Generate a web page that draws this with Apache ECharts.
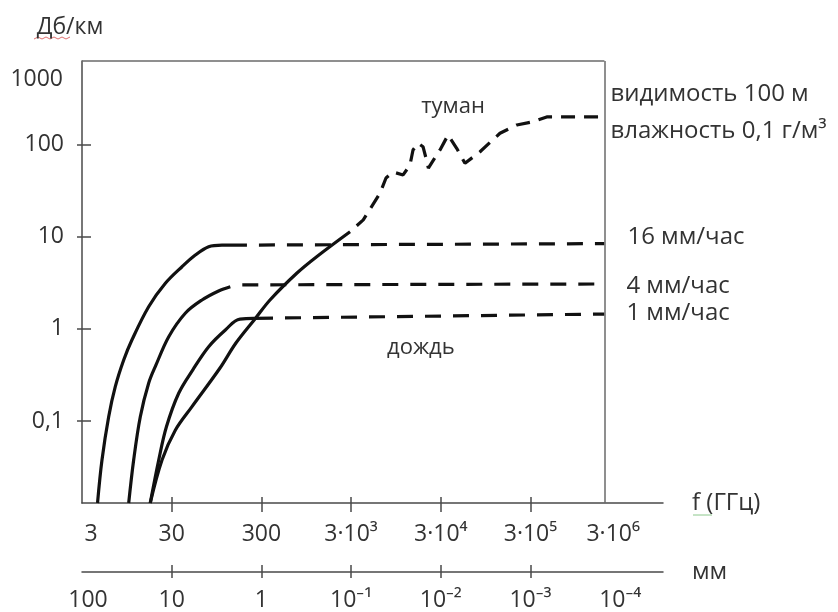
<!DOCTYPE html>
<html>
<head>
<meta charset="utf-8">
<script src="https://cdn.jsdelivr.net/npm/echarts@6/dist/echarts.min.js"></script>
<style>html,body{margin:0;padding:0;background:#fff}#c{width:838px;height:612px}</style>
</head>
<body>
<div id="c"></div>
<script>
// ---- axis ticks / labels ----
const freqTicks  = [3, 30, 300, 3000, 30000, 300000, 3000000];            // GHz
const freqLabels = ['3', '30', '300', '3·10³', '3·10⁴', '3·10⁵', '3·10⁶'];
const mmLabels   = ['100', '10', '1', '10⁻¹', '10⁻²', '10⁻³', '10⁻⁴'];   // wavelength, mm
const attTicks   = [0.1, 1, 10, 100, 1000];                               // dB/km
const attLabels  = ['0,1', '1', '10', '100', '1000'];

// ---- rain curves (solid part) : frequency GHz, attenuation dB/km ----
const rain16F = [4.47, 5.01, 5.95, 7.05, 8.75, 10.8, 16.6, 25.5, 39.1, 55, 77.5, 109, 207];
const rain16V = [0.013, 0.038, 0.112, 0.237, 0.461, 0.759, 1.74, 3.12, 4.72, 6.32, 7.78, 8.1, 8.1];
const rain4F  = [9.95, 11.3, 13.4, 16.6, 20.05, 27.8, 42.5, 65.3, 100, 135];
const rain4V  = [0.013, 0.038, 0.112, 0.258, 0.407, 0.824, 1.48, 2.06, 2.58, 2.87];
const rain1F  = [17.3, 21.5, 26.2, 35.9, 51.8, 77.5, 119, 173, 404];
const rain1V  = [0.013, 0.038, 0.087, 0.201, 0.363, 0.642, 0.974, 1.28, 1.31];

// ---- rain curves (dashed continuation) ----
const rain16DashF = [207, 2000000];
const rain16DashV = [8.1, 8.4];
const rain4DashF  = [135, 2000000];
const rain4DashV  = [3.0, 3.07];
const rain1DashF  = [404, 2000000];
const rain1DashV  = [1.31, 1.45];

// ---- fog curve ----
const fogF = [17.3, 23.4, 32.9, 50.5, 103.7, 156, 257, 374, 743, 1240, 2920];
const fogV = [0.013, 0.038, 0.080, 0.144, 0.377, 0.704, 1.30, 2.06, 4.01, 6.06, 11.3];
const fogDashF = [2920, 4100, 6300, 7350, 8800, 11400, 13600, 14700, 16700, 19000, 20500, 21800,
                  29400, 36100, 45100, 55800, 82100, 137000, 211000, 322000, 455000, 2000000];
const fogDashV = [11.3, 15.2, 29.5, 43.2, 50.2, 46.6, 59.7, 86.9, 103, 94.3, 71.1, 55.4,
                  86.9, 126, 90.6, 62.3, 83.2, 132, 162, 176, 198, 198];

const rainNames = ['16 мм/час', '4 мм/час', '1 мм/час'];
const fogName = 'туман';
const rainName = 'дождь';
const fogNote = ['видимость 100 м', 'влажность 0,1 г/м³'];

// ---- axis extents ----
const X_MIN = 3, X_MAX = 9e6, FRAME_RIGHT = 2e6;
const Y_MIN = 0.013, Y_MAX = 800;

const FONT = "'Open Sans', 'Noto Sans', sans-serif";
const FS = 23;
const FS_R = 24;
const TEXT_C = '#333333';
const AXIS_C = '#4a4a4a';
const FRAME_C = '#6a6a6a';
const LINE_C = '#111111';

const pairs = (F, V) => F.map((f, i) => [f, V[i]]);
const tickIndex = v => freqTicks.findIndex(t => Math.abs(Math.log10(t) - Math.log10(v)) < 1e-6);
const txt = { fontFamily: FONT, fontSize: FS, color: TEXT_C };
const txtR = { fontFamily: FONT, fontSize: FS_R, color: TEXT_C };

function solid(name, F, V) {
  return { type: 'line', name, data: pairs(F, V), symbol: 'none', smooth: 0.35, silent: true,
           lineStyle: { color: LINE_C, width: 3.2 }, z: 3 };
}
function dashed(name, F, V, dash, endLabel) {
  const s = { type: 'line', name, data: pairs(F, V), symbol: 'none', smooth: false, silent: true,
              lineStyle: { color: LINE_C, width: 3.2, type: dash, dashOffset: dash[0] }, z: 3 };
  if (endLabel) s.endLabel = endLabel;
  return s;
}

const axisLine = { show: true, lineStyle: { color: AXIS_C, width: 1.5 } };
const tickStyle = { color: AXIS_C, width: 1.5 };
const innerTicks = freqTicks.slice(1, 6);

const fogSolid = solid(fogName, fogF, fogV);
fogSolid.markLine = {
  silent: true, symbol: ['none', 'none'], label: { show: false },
  lineStyle: { color: FRAME_C, width: 1.5, type: 'solid' },
  data: [
    [{ coord: [X_MIN, Y_MAX] }, { coord: [FRAME_RIGHT, Y_MAX] }],
    [{ coord: [FRAME_RIGHT, Y_MIN] }, { coord: [FRAME_RIGHT, Y_MAX] }]
  ]
};

const option = {
  animation: false,
  backgroundColor: '#ffffff',
  grid: { left: 82, right: 175, top: 61, bottom: 109, containLabel: false },
  xAxis: [
    { type: 'log', min: X_MIN, max: X_MAX, position: 'bottom',
      axisLine, splitLine: { show: false },
      axisTick: { show: true, customValues: innerTicks, length: 9, lineStyle: tickStyle },
      axisLabel: { customValues: freqTicks, margin: 20, ...txt,
        formatter: v => { const i = tickIndex(v); const t = freqLabels[i];
          return i === 0 ? '{l|' + t + '}' : (i === freqTicks.length - 1 ? '{r|' + t + '}' : t); },
        rich: { l: { ...txt, padding: [0, 0, 0, 18] }, r: { ...txt, padding: [0, 14, 0, 0] } } },
      name: 'f (ГГц)', nameLocation: 'end', nameGap: 29, nameTextStyle: { ...txtR } },
    { type: 'log', min: X_MIN, max: X_MAX, position: 'bottom',
      axisLine: { show: false }, splitLine: { show: false }, axisLabel: { show: false },
      axisTick: { show: true, inside: true, customValues: innerTicks, length: 6, lineStyle: tickStyle } },
    { type: 'log', min: X_MIN, max: X_MAX, position: 'bottom', offset: 69,
      axisLine, splitLine: { show: false },
      axisTick: { show: true, customValues: innerTicks, length: 6, lineStyle: tickStyle },
      axisLabel: { customValues: freqTicks, margin: 17, ...txt,
        formatter: v => { const i = tickIndex(v); const t = mmLabels[i];
          return i === 0 ? '{l|' + t + '}' : t; },
        rich: { l: { ...txt, padding: [0, 0, 0, 12] } } },
      name: 'мм', nameLocation: 'end', nameGap: 29, nameTextStyle: { ...txtR } },
    { type: 'log', min: X_MIN, max: X_MAX, position: 'bottom', offset: 69,
      axisLine: { show: false }, splitLine: { show: false }, axisLabel: { show: false },
      axisTick: { show: true, inside: true, customValues: innerTicks, length: 7, lineStyle: tickStyle } }
  ],
  yAxis: [
    { type: 'log', min: Y_MIN, max: Y_MAX, position: 'left',
      axisLine, splitLine: { show: false },
      axisTick: { show: true, inside: true, customValues: attTicks.slice(0, 4), length: 9, lineStyle: tickStyle },
      axisLabel: { customValues: attTicks.slice(0, 4), margin: 18, ...txt,
        formatter: v => { const i = attTicks.findIndex(t => Math.abs(Math.log10(t) - Math.log10(v)) < 1e-6); return attLabels[i]; } },
      name: 'Дб/км', nameLocation: 'end', nameGap: 22,
      nameTextStyle: { ...txt, padding: [0, 24, 0, 0] } },
    { type: 'log', min: Y_MIN, max: Y_MAX, position: 'left',
      axisLine: { show: false }, splitLine: { show: false }, axisLabel: { show: false },
      axisTick: { show: true, inside: false, customValues: attTicks.slice(0, 4), length: 5, lineStyle: tickStyle } }
  ],
  series: [
    solid(rainNames[0], rain16F, rain16V),
    solid(rainNames[1], rain4F, rain4V),
    solid(rainNames[2], rain1F, rain1V),
    fogSolid,
    dashed(rainNames[0], rain16DashF, rain16DashV, [16, 12],
      { show: true, formatter: p => p.seriesName, distance: 23, offset: [0, -6], ...txtR }),
    dashed(rainNames[1], rain4DashF, rain4DashV, [16, 12],
      { show: true, formatter: p => p.seriesName, distance: 22, offset: [0, 2], ...txtR }),
    dashed(rainNames[2], rain1DashF, rain1DashV, [16, 12],
      { show: true, formatter: p => p.seriesName, distance: 22, offset: [0, -1], ...txtR }),
    dashed(fogName, fogDashF, fogDashV, [14, 9],
      { show: true, formatter: () => fogNote.join('\n'), distance: 6, offset: [0, -4], lineHeight: 37, align: 'left', ...txtR })
  ],
  graphic: [
    { type: 'text', x: 63, y: 79, silent: true,
      style: { text: attLabels[4], fontFamily: FONT, fontSize: FS, fill: TEXT_C, align: 'right', verticalAlign: 'middle' } },
    { type: 'text', x: 453, y: 107, silent: true,
      style: { text: fogName, fontFamily: FONT, fontSize: 22, fill: TEXT_C, align: 'center', verticalAlign: 'middle' } },
    { type: 'text', x: 387, y: 348, silent: true,
      style: { text: rainName, fontFamily: FONT, fontSize: 22, fill: TEXT_C, align: 'left', verticalAlign: 'middle' } },
    { type: 'polyline', silent: true,
      shape: { points: [[34, 39], [38, 37], [42, 39], [46, 37], [50, 39], [54, 37], [58, 39], [62, 37], [66, 39], [70, 37]] },
      style: { stroke: '#e07070', lineWidth: 1, fill: null } },
    { type: 'polyline', silent: true,
      shape: { points: [[693, 515], [712, 515]] },
      style: { stroke: '#8cc88c', lineWidth: 1, fill: null } }
  ]
};

const chart = echarts.init(document.getElementById('c'), null, { renderer: 'canvas' });
chart.setOption(option);
</script>
</body>
</html>
